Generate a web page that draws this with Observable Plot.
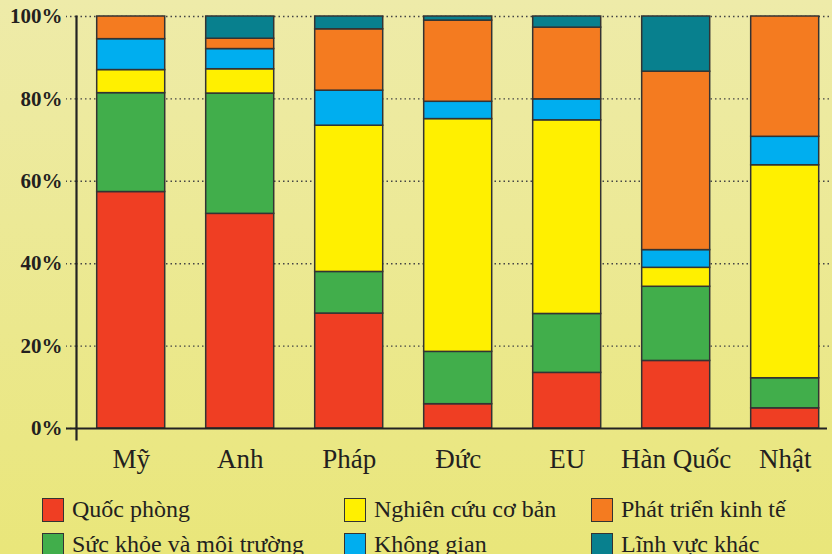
<!DOCTYPE html>
<html><head><meta charset="utf-8">
<script src="https://cdn.jsdelivr.net/npm/d3@7"></script>
<script src="https://cdn.jsdelivr.net/npm/@observablehq/plot@0.6"></script>
<style>
html,body{margin:0;padding:0;}
body{width:832px;height:554px;overflow:hidden;position:relative;background:linear-gradient(#EEEBA9,#E9E67A);font-family:"Liberation Serif",serif;color:#231F20;}
#chart{position:absolute;left:0;top:0;}
#legend{position:absolute;left:42px;top:492px;display:grid;grid-template-columns:302px 247px 200px;grid-template-rows:35px 35px;grid-auto-flow:column;}
.item{display:flex;align-items:center;font-family:"Liberation Serif",serif;font-size:24px;white-space:nowrap;}
.sw{width:20px;height:22px;border:1.5px solid #333;margin-right:8px;flex:none;}
</style></head>
<body><div id="chart"></div><div id="legend"></div>
<script>
const countries = ["Mỹ","Anh","Pháp","Đức","EU","Hàn Quốc","Nhật"];
const sectors = ["Quốc phòng","Sức khỏe và môi trường","Nghiên cứu cơ bản","Không gian","Phát triển kinh tế","Lĩnh vực khác"];
const colors = ["#EF3E23","#41AE4B","#FFF000","#00AEEF","#F47B20","#08808E"];
const quocPhong = [57.4,52.1,27.9,5.9,13.5,16.4,4.9];
const sucKhoe   = [24.0,29.2,10.1,12.7,14.3,18.0,7.3];
const nghienCuu = [5.6,5.9,35.5,56.5,47.0,4.6,51.7];
const khongGian = [7.5,4.9,8.5,4.2,5.1,4.3,6.9];
const phatTrien = [5.5,2.5,14.9,19.7,17.4,43.3,29.2];
const khac      = [0,5.4,3.1,1.0,2.7,13.4,0];
const yTicks = [0,20,40,60,80,100];

const series = [quocPhong,sucKhoe,nghienCuu,khongGian,phatTrien,khac];
const data = [];
countries.forEach((c,i)=>series.forEach((s,j)=>{ if (s[i]>0) data.push({country:c, sector:sectors[j], value:s[i]}); }));

const chart = Plot.plot({
  width: 832, height: 480,
  marginLeft: 76, marginRight: 0, marginTop: 16, marginBottom: 52,
  style: {background:"transparent", fontFamily:"Liberation Serif, serif", color:"#231F20"},
  x: {type:"band", domain: countries, range:[96.7,818.7], paddingInner:0.376, paddingOuter:0, round:false},
  y: {domain:[0,100]},
  color: {domain: sectors, range: colors},
  marks: [
    Plot.ruleY(yTicks.filter(d=>d>0), {stroke:"#444", strokeWidth:1.4, strokeDasharray:"1.5,3"}),
    Plot.barY(data, Plot.stackY({x:"country", y:"value", fill:"sector", stroke:"#333", strokeWidth:1.5})),
    Plot.axisY({ticks:yTicks, tickFormat:d=>d+"%", tickSize:10, tickPadding:4, stroke:"#444", strokeWidth:1.4, strokeDasharray:"1.5,3", fontSize:21, fontWeight:"bold", label:null}),
    Plot.ruleY([0], {stroke:"#222", strokeWidth:2, dx:-5, insetLeft:-5}),
    Plot.frame({anchor:"left", stroke:"#222", strokeWidth:2.2, insetBottom:-11}),
    Plot.axisX({tickSize:0, tickPadding:20, fontSize:27, label:null})
  ]
});
document.getElementById("chart").appendChild(chart);

const legend = document.getElementById("legend");
sectors.forEach((s,j)=>{
  const d = document.createElement("div"); d.className="item";
  const sw = document.createElement("span"); sw.className="sw"; sw.style.background=colors[j];
  d.appendChild(sw); d.appendChild(document.createTextNode(s));
  legend.appendChild(d);
});
</script>
</body></html>
